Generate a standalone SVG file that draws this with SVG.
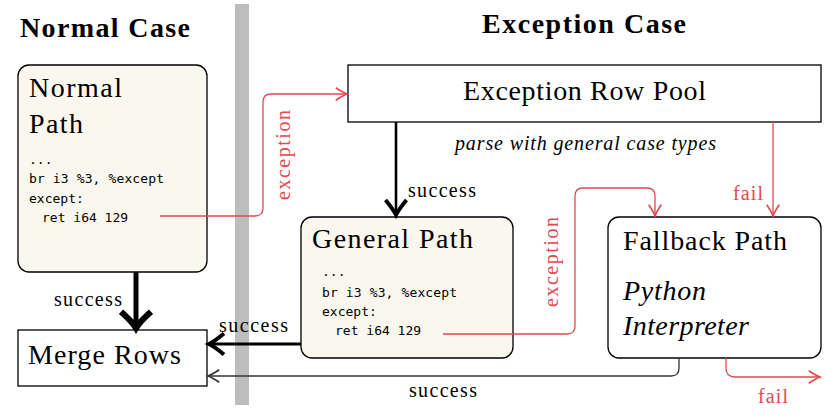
<svg xmlns="http://www.w3.org/2000/svg" width="826" height="419" viewBox="0 0 826 419">
<style>
.serif{font-family:"Liberation Serif","Times New Roman",serif;fill:#000}
.title{font-size:28px;font-weight:bold}
.big{font-size:28px}
.lbl{font-size:20px}
.red{fill:#e04a50}
.code{font-family:"DejaVu Sans Mono","Liberation Mono",monospace;font-size:13px;fill:#000}
.box{stroke:#000;stroke-width:1.3}
.cream{fill:#faf7ee}
.white{fill:#fff}
.rline{fill:none;stroke:#e04a50;stroke-width:1.3}
</style>
<defs>
<marker id="aRed" markerUnits="userSpaceOnUse" orient="auto" markerWidth="20" markerHeight="20" refX="0" refY="0" viewBox="-12 -8 14 16" overflow="visible">
<path d="M-9,-5 Q-3,-1 0,0 Q-3,1 -9,5" fill="none" stroke="#e04a50" stroke-width="1.3"/>
</marker>
<marker id="aGray" markerUnits="userSpaceOnUse" orient="auto" markerWidth="20" markerHeight="20" refX="0" refY="0" viewBox="-12 -8 14 16" overflow="visible">
<path d="M-9,-5 Q-3,-1 0,0 Q-3,1 -9,5" fill="none" stroke="#333" stroke-width="1.3"/>
</marker>
<marker id="aMed" markerUnits="userSpaceOnUse" orient="auto" markerWidth="30" markerHeight="30" refX="0" refY="0" viewBox="-14 -10 16 20" overflow="visible">
<path d="M-10,-7 Q-4,-2 0,0 Q-4,2 -10,7" fill="none" stroke="#000" stroke-width="2.6"/>
</marker>
<marker id="aThick" markerUnits="userSpaceOnUse" orient="auto" markerWidth="40" markerHeight="40" refX="0" refY="0" viewBox="-18 -16 20 32" overflow="visible">
<path d="M-13,-12 Q-5,-3 0,0 Q-5,3 -13,12" fill="none" stroke="#000" stroke-width="5"/>
</marker>
</defs>
<rect width="826" height="419" fill="#fff"/>
<rect x="235" y="4" width="14" height="401" fill="#bdbdbd"/>
<text class="serif title" x="20" y="37" textLength="170">Normal Case</text>
<text class="serif title" x="482" y="33" textLength="204">Exception Case</text>

<g id="normal-path">
<rect class="box cream" x="18" y="65" width="189" height="207" rx="11"/>
<text class="serif big" x="29" y="97" textLength="93">Normal</text>
<text class="serif big" x="29" y="133" textLength="54">Path</text>
<text class="code" x="29" y="164">...</text>
<text class="code" x="29" y="183" textLength="135">br i3 %3, %except</text>
<text class="code" x="29" y="203">except:</text>
<text class="code" x="42" y="222">ret i64 129</text>
</g>

<g id="exception-row-pool">
<rect class="box white" x="348" y="65" width="473" height="57"/>
<text class="serif big" x="463" y="100" textLength="243">Exception Row Pool</text>
</g>

<g id="general-path">
<rect class="box cream" x="301" y="217" width="212" height="141" rx="11"/>
<text class="serif big" x="312" y="248" textLength="161">General Path</text>
<text class="code" x="322" y="276">...</text>
<text class="code" x="322" y="297" textLength="135">br i3 %3, %except</text>
<text class="code" x="322" y="316">except:</text>
<text class="code" x="335" y="335">ret i64 129</text>
</g>

<g id="fallback-path">
<rect class="box white" x="608" y="217" width="213" height="141" rx="11"/>
<text class="serif big" x="623" y="250" textLength="164">Fallback Path</text>
<text class="serif big" x="623" y="300" font-style="italic" textLength="83">Python</text>
<text class="serif big" x="623" y="335" font-style="italic" textLength="126">Interpreter</text>
</g>

<g id="merge-rows">
<rect class="box white" x="18" y="330" width="189" height="56"/>
<text class="serif big" x="28" y="364" textLength="153">Merge Rows</text>
</g>

<g id="connectors">
<path class="rline" d="M160,216 H255 Q263,216 263,208 V102 Q263,94 271,94 H347" marker-end="url(#aRed)"/>
<path d="M396,122 V215" fill="none" stroke="#000" stroke-width="2.6" marker-end="url(#aMed)"/>
<path class="rline" d="M773,122 V216" marker-end="url(#aRed)"/>
<path class="rline" d="M443,334 H567 Q575,334 575,326 V196 Q575,188 583,188 H647 Q655,188 655,196 V216" marker-end="url(#aRed)"/>
<path d="M136,272 V328" fill="none" stroke="#000" stroke-width="5" marker-end="url(#aThick)"/>
<path d="M301,344 H209" fill="none" stroke="#000" stroke-width="3" marker-end="url(#aMed)"/>
<path d="M679,358 V368 Q679,376 671,376 H208" fill="none" stroke="#333" stroke-width="1.3" marker-end="url(#aGray)"/>
<path class="rline" d="M726,358 V368 Q726,377 735,377 H820" marker-end="url(#aRed)"/>
<text class="serif lbl" x="290" y="200" transform="rotate(-90 290 200)" textLength="90" style="fill:#e04a50">exception</text>
<text class="serif lbl" x="558" y="307" transform="rotate(-90 558 307)" textLength="90" style="fill:#e04a50">exception</text>
<text class="serif lbl" x="408" y="197" textLength="68">success</text>
<text class="serif lbl red" x="733" y="200" textLength="30">fail</text>
<text class="serif lbl" x="54" y="306" textLength="68">success</text>
<text class="serif lbl" x="219" y="332" textLength="69">success</text>
<text class="serif lbl" x="409" y="397" textLength="68">success</text>
<text class="serif lbl red" x="758" y="403" textLength="30">fail</text>
<text class="serif lbl" x="455" y="150" textLength="261" font-style="italic">parse with general case types</text>
</g>
</svg>
